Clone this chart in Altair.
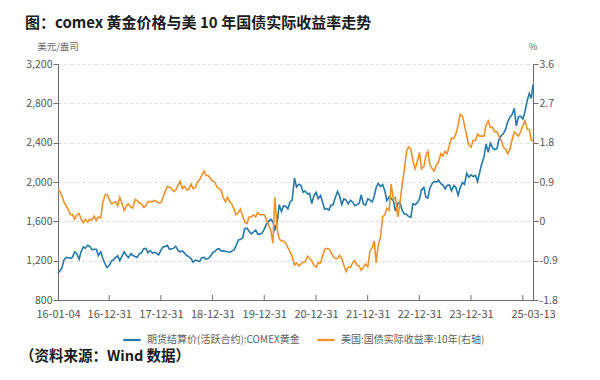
import altair as alt
import pandas as pd

FONT = "Noto Sans CJK SC"
BLUE = "#2479a6"
ORANGE = "#f0912a"

title_text = ["图：comex 黄金价格与美 10 年国债实际收益率走势"]
source_text = ["（资料来源：Wind 数据）"]
left_unit = ["美元/盎司"]
right_unit = ["%"]

gold_name = "期货结算价(活跃合约):COMEX黄金"
yield_name = "美国:国债实际收益率:10年(右轴)"

# semi-monthly samples (1st and 15th of each month)
gold_2016 = [1075, 1090, 1128, 1208, 1231, 1232, 1223, 1234, 1290, 1273, 1215, 1290, 1340, 1327, 1357, 1345, 1310, 1316, 1316, 1252, 1290, 1225, 1170, 1130]
gold_2017 = [1152, 1196, 1211, 1233, 1249, 1201, 1249, 1290, 1255, 1230, 1270, 1255, 1242, 1233, 1269, 1280, 1322, 1325, 1282, 1303, 1278, 1285, 1275, 1257]
gold_2018 = [1309, 1340, 1345, 1355, 1317, 1318, 1327, 1347, 1305, 1290, 1298, 1278, 1252, 1241, 1222, 1185, 1206, 1198, 1191, 1230, 1233, 1215, 1222, 1242]
gold_2019 = [1282, 1292, 1317, 1322, 1299, 1302, 1295, 1290, 1284, 1297, 1310, 1352, 1410, 1415, 1433, 1525, 1530, 1500, 1473, 1490, 1512, 1470, 1470, 1480]
gold_2020 = [1523, 1570, 1600, 1620, 1600, 1516, 1596, 1768, 1700, 1756, 1751, 1727, 1800, 1813, 2040, 1950, 1978, 1966, 1895, 1908, 1879, 1886, 1780, 1855]
gold_2021 = [1895, 1830, 1863, 1797, 1723, 1730, 1715, 1765, 1768, 1838, 1905, 1858, 1770, 1828, 1817, 1778, 1815, 1795, 1760, 1768, 1784, 1868, 1776, 1765]
gold_2022 = [1829, 1817, 1797, 1855, 1944, 1985, 1954, 1975, 1911, 1810, 1849, 1835, 1807, 1705, 1782, 1798, 1712, 1677, 1672, 1650, 1640, 1778, 1768, 1787]
gold_2023 = [1826, 1920, 1945, 1845, 1836, 1935, 1986, 2005, 1999, 2020, 1982, 1970, 1929, 1965, 1970, 1910, 1966, 1945, 1866, 1940, 1995, 1975, 2090, 2050]
gold_2024 = [2072, 2055, 2067, 2005, 2095, 2180, 2255, 2385, 2302, 2395, 2346, 2330, 2339, 2430, 2473, 2490, 2538, 2610, 2659, 2680, 2749, 2570, 2665, 2670]
gold_2025 = [2641, 2715, 2835, 2900, 2849, 2990]

yield_2016 = [0.72, 0.70, 0.58, 0.45, 0.35, 0.28, 0.15, 0.16, 0.05, 0.14, 0.18, 0.05, -0.03, 0.05, -0.02, 0.05, 0.03, 0.12, 0.02, 0.10, 0.08, 0.42, 0.60, 0.62]
yield_2017 = [0.50, 0.40, 0.42, 0.45, 0.35, 0.55, 0.40, 0.25, 0.35, 0.40, 0.33, 0.30, 0.50, 0.48, 0.42, 0.40, 0.32, 0.35, 0.45, 0.45, 0.45, 0.48, 0.45, 0.42]
yield_2018 = [0.43, 0.55, 0.70, 0.80, 0.78, 0.76, 0.68, 0.72, 0.83, 0.92, 0.75, 0.80, 0.72, 0.73, 0.85, 0.75, 0.78, 0.90, 0.95, 1.05, 1.15, 1.05, 1.05, 0.98]
yield_2019 = [0.92, 0.90, 0.78, 0.75, 0.72, 0.55, 0.45, 0.55, 0.45, 0.40, 0.28, 0.15, 0.20, 0.28, 0.12, -0.02, -0.05, 0.10, 0.10, 0.15, 0.10, 0.20, 0.15, 0.15]
yield_2020 = [0.15, 0.05, -0.10, -0.20, -0.50, 0.55, -0.20, -0.40, -0.45, -0.45, -0.50, -0.60, -0.70, -0.80, -1.00, -0.95, -1.02, -0.98, -0.93, -0.93, -0.80, -0.85, -0.90, -1.00]
yield_2021 = [-1.05, -0.95, -0.95, -0.80, -0.65, -0.62, -0.63, -0.70, -0.80, -0.85, -0.85, -0.78, -0.85, -1.00, -1.15, -1.05, -1.05, -0.95, -0.90, -1.00, -1.02, -1.12, -1.05, -0.98]
yield_2022 = [-1.04, -0.70, -0.60, -0.45, -0.95, -0.55, -0.35, 0.10, 0.15, 0.30, 0.25, 0.85, 0.50, 0.55, 0.10, 0.40, 0.85, 1.15, 1.60, 1.70, 1.65, 1.40, 1.20, 1.35]
yield_2023 = [1.58, 1.20, 1.25, 1.50, 1.60, 1.30, 1.20, 1.15, 1.30, 1.35, 1.55, 1.50, 1.60, 1.55, 1.75, 1.90, 1.90, 2.00, 2.20, 2.45, 2.40, 2.20, 1.95, 1.75]
yield_2024 = [1.70, 1.85, 1.85, 2.00, 1.95, 1.95, 1.95, 2.20, 2.30, 2.15, 2.15, 2.05, 2.05, 1.95, 1.85, 1.70, 1.65, 1.55, 1.65, 1.85, 2.05, 2.00, 1.95, 2.05]
yield_2025 = [2.20, 2.30, 2.10, 2.10, 1.85, 1.85]

tick_dates = ["2016-01-04", "2016-12-31", "2017-12-31", "2018-12-31", "2019-12-31",
              "2020-12-31", "2021-12-31", "2022-12-31", "2023-12-31", "2024-12-31", "2025-03-13"]
left_ticks = [800, 1200, 1600, 2000, 2400, 2800, 3200]
right_ticks = [-1.8, -0.9, 0, 0.9, 1.8, 2.7, 3.6]

dates = []
for yr in range(2016, 2025):
    for m in range(1, 13):
        dates += [f"{yr}-{m:02d}-01", f"{yr}-{m:02d}-15"]
dates[0] = "2016-01-04"
dates += ["2025-01-01", "2025-01-15", "2025-02-01", "2025-02-15", "2025-03-01", "2025-03-13"]

gold = (gold_2016 + gold_2017 + gold_2018 + gold_2019 + gold_2020 + gold_2021 +
        gold_2022 + gold_2023 + gold_2024 + gold_2025)
ry = (yield_2016 + yield_2017 + yield_2018 + yield_2019 + yield_2020 + yield_2021 +
      yield_2022 + yield_2023 + yield_2024 + yield_2025)

gold_df = pd.DataFrame({"date": dates, "value": gold, "series": gold_name})
yield_df = pd.DataFrame({"date": dates, "value": ry, "series": yield_name})
tick_df = pd.DataFrame({"date": tick_dates[1:-1]})


def ms(d):
    return int(pd.Timestamp(d, tz="UTC").timestamp() * 1000)


W, H = 475, 236
AX = "#6e6e6e"

x_enc = alt.X(
    "date:T",
    scale=alt.Scale(type="utc", domain=[ms(tick_dates[0]), ms(tick_dates[-1])], nice=False),
    axis=alt.Axis(
        values=[ms(d) for d in tick_dates],
        labelExpr="utcFormat(datum.value, '%Y-%m-%d') == '2024-12-31' ? '' : utcFormat(datum.value, '%y-%m-%d')",
        ticks=False, grid=False, title=None, labelPadding=8,
        labelFontSize=11, labelColor="#555", labelFont=FONT,
        domainColor=AX, labelOverlap=False, labelFlush=False,
    ),
)

color_enc = alt.Color(
    "series:N",
    scale=alt.Scale(domain=[gold_name, yield_name], range=[BLUE, ORANGE]),
    legend=alt.Legend(
        orient="none", legendX=64, legendY=266, direction="horizontal", title=None,
        symbolType="stroke", symbolStrokeWidth=2.2, symbolSize=300,
        labelFontSize=10, labelColor="#606060", labelFont=FONT,
        columnPadding=12, labelOffset=5, padding=0,
    ),
)

gold_line = alt.Chart(gold_df).mark_line(strokeWidth=1.6).encode(
    x=x_enc,
    y=alt.Y("value:Q",
            scale=alt.Scale(domain=[800, 3200], nice=False, zero=False),
            axis=alt.Axis(orient="left", values=left_ticks, format=",.0f", title=None,
                          grid=True, gridDash=[3, 3], gridColor="#d9d9d9",
                          domainColor=AX, tickColor=AX, tickSize=5,
                          labelFontSize=10.5, labelColor="#555", labelFont=FONT, labelPadding=1)),
    color=color_enc,
)

yield_line = alt.Chart(yield_df).mark_line(strokeWidth=1.6).encode(
    x=x_enc,
    y=alt.Y("value:Q",
            scale=alt.Scale(domain=[-1.8, 3.6], nice=False, zero=False),
            axis=alt.Axis(orient="right", values=right_ticks, labelExpr="'' + datum.value",
                          title=None, grid=False,
                          domainColor=AX, tickColor=AX, tickSize=5,
                          labelFontSize=10.5, labelColor="#555", labelFont=FONT, labelPadding=1)),
    color=color_enc,
)

inner_ticks = alt.Chart(tick_df).mark_rule(color=AX, strokeWidth=1).encode(
    x=x_enc, y=alt.value(H - 5), y2=alt.value(H)
)

title_layer = alt.Chart(pd.DataFrame({"t": title_text})).mark_text(
    align="left", baseline="middle", font=FONT, fontSize=15, fontWeight="bold", color="#1a1a1a"
).encode(x=alt.value(-33), y=alt.value(-41), text="t:N")

source_layer = alt.Chart(pd.DataFrame({"t": source_text})).mark_text(
    align="left", baseline="middle", font=FONT, fontSize=14.5, fontWeight="bold", color="#1a1a1a"
).encode(x=alt.value(-38), y=alt.value(293), text="t:N")

lu_layer = alt.Chart(pd.DataFrame({"t": left_unit})).mark_text(
    align="center", baseline="middle", font=FONT, fontSize=9.5, color="#666"
).encode(x=alt.value(0), y=alt.value(-17), text="t:N")

ru_layer = alt.Chart(pd.DataFrame({"t": right_unit})).mark_text(
    align="center", baseline="middle", font=FONT, fontSize=9.5, color="#666"
).encode(x=alt.value(W), y=alt.value(-17), text="t:N")

chart = alt.layer(
    gold_line, yield_line, inner_ticks, title_layer, source_layer, lu_layer, ru_layer
).resolve_scale(y="independent").properties(
    width=W, height=H,
    autosize="none",
    padding={"left": 50, "top": 56, "right": 50, "bottom": 70},
    background="white",
).configure_view(stroke=None)

chart.save("out.html", embed_options={"renderer": "svg", "actions": False})
